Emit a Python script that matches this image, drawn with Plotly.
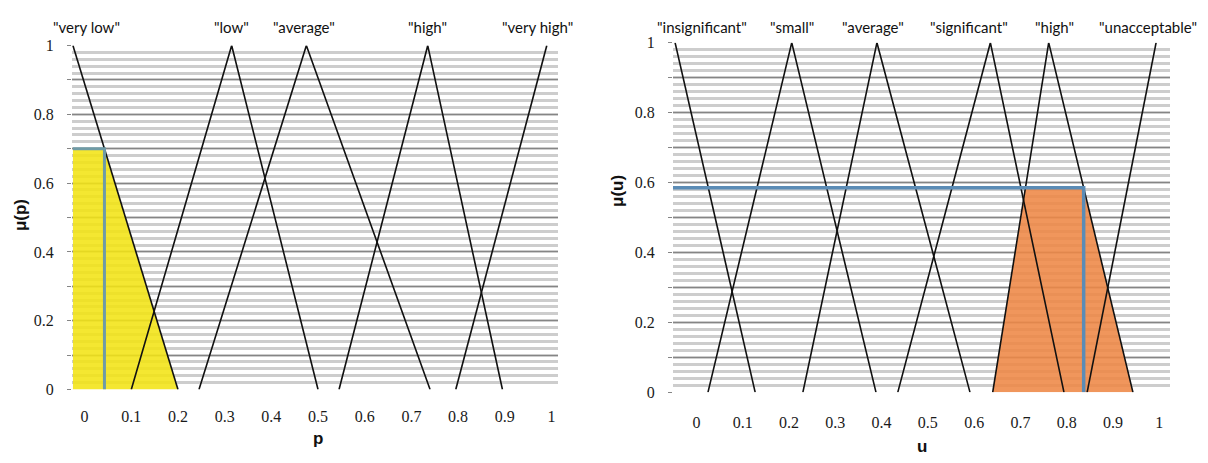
import numpy as np
import plotly.graph_objects as go

# ---------------- data ----------------
# Left panel: input variable p, triangular terms (start, peak, end); None = shoulder
p_terms = ['"very low"', '"low"', '"average"', '"high"', '"very high"']
p_start = [None, 0.10, 0.245, 0.545, 0.795]
p_peak = [-0.025, 0.315, 0.475, 0.735, 0.99]
p_end = [0.20, 0.50, 0.74, 0.895, None]
p_mu = 0.70            # membership level of the input in "very low"
p_fired = 0            # index of fired term

# Right panel: output variable u
u_terms = ['"insignificant"', '"small"', '"average"', '"significant"', '"high"', '"unacceptable"']
u_start = [None, 0.025, 0.23, 0.435, 0.64, 0.844]
u_peak = [-0.046, 0.206, 0.39, 0.635, 0.761, 0.993]
u_end = [0.127, 0.388, 0.591, 0.794, 0.943, None]
u_mu = 0.585           # clipping level of the output term
u_fired = 4            # "high"

x_ticks = [0, 0.1, 0.2, 0.3, 0.4, 0.5, 0.6, 0.7, 0.8, 0.9, 1.0]
x_ticktext = ["0", "0.1", "0.2", "0.3", "0.4", "0.5", "0.6", "0.7", "0.8", "0.9", "1"]
y_ticks = [0, 0.1, 0.2, 0.3, 0.4, 0.5, 0.6, 0.7, 0.8, 0.9, 1.0]
y_ticktext = ["0", "", "0.2", "", "0.4", "", "0.6", "", "0.8", "", "1"]

# ---------------- styling ----------------
W, H = 1208, 463
TICK_FONT = dict(family="Liberation Serif", size=16, color="#1a1a1a")
TERM_FONT = dict(family="Lato", size=15, color="#111")
TITLE_FONT = dict(family="Liberation Sans", size=17, color="#111")
MAJOR_GRID = "#858585"
MINOR_GRID = "#cdcdcd"


def px_x(p):
    return p / W


def px_y(p):
    return 1 - p / H


fig = go.Figure()


def term_xy(a, b, c):
    xs, ys = [], []
    if a is not None:
        xs.append(a); ys.append(0)
    xs.append(b); ys.append(1)
    if c is not None:
        xs.append(c); ys.append(0)
    return xs, ys


# ----- left panel fill (very low clipped at p_mu) -----
b, c = p_peak[p_fired], p_end[p_fired]
xc = b + (1 - p_mu) * (c - b)
fig.add_trace(go.Scatter(x=[b, b, xc, c, b], y=[0, p_mu, p_mu, 0, 0], fill="toself",
                         fillcolor="rgba(242,228,20,0.88)", line=dict(width=0),
                         mode="lines", xaxis="x", yaxis="y", hoverinfo="skip", showlegend=False))

# ----- right panel fill ("high" clipped at u_mu) -----
a, b, c = u_start[u_fired], u_peak[u_fired], u_end[u_fired]
xl = a + u_mu * (b - a)
xr = c - u_mu * (c - b)
fig.add_trace(go.Scatter(x=[a, xl, xr, c, a], y=[0, u_mu, u_mu, 0, 0], fill="toself",
                         fillcolor="rgba(238,135,70,0.88)", line=dict(width=0),
                         mode="lines", xaxis="x2", yaxis="y2", hoverinfo="skip", showlegend=False))

# ----- membership function lines -----
for name, a, b, c in zip(p_terms, p_start, p_peak, p_end):
    xs, ys = term_xy(a, b, c)
    fig.add_trace(go.Scatter(x=xs, y=ys, mode="lines", line=dict(color="#111", width=1.6),
                             name=name, xaxis="x", yaxis="y", showlegend=False, cliponaxis=False))
for name, a, b, c in zip(u_terms, u_start, u_peak, u_end):
    xs, ys = term_xy(a, b, c)
    fig.add_trace(go.Scatter(x=xs, y=ys, mode="lines", line=dict(color="#111", width=1.6),
                             name=name, xaxis="x2", yaxis="y2", showlegend=False, cliponaxis=False))

# ----- activation lines -----
pb = p_peak[p_fired]
fig.add_trace(go.Scatter(x=[pb, xc, xc], y=[p_mu, p_mu, 0], mode="lines",
                         line=dict(color="#6f9ba6", width=3), xaxis="x", yaxis="y",
                         showlegend=False, hoverinfo="skip"))
fig.add_trace(go.Scatter(x=[-0.06, xr, xr], y=[u_mu, u_mu, 0], mode="lines",
                         line=dict(color="#5b8cb6", width=3.5), xaxis="x2", yaxis="y2",
                         showlegend=False, hoverinfo="skip", cliponaxis=False))

# ----- axes -----
def yaxis(domain, anchor):
    return dict(domain=domain, anchor=anchor, range=[0, 1], tickvals=y_ticks, ticktext=y_ticktext,
                showgrid=True, gridcolor=MAJOR_GRID, gridwidth=1.3, zeroline=False, showline=False,
                ticks="outside", ticklen=4, tickcolor=MAJOR_GRID, ticklabelstandoff=10,
                tickfont=TICK_FONT, fixedrange=True,
                minor=dict(dtick=0.02, tick0=0, showgrid=True, gridcolor=MINOR_GRID, gridwidth=2.5))


def xaxis(domain, anchor, rng, standoff):
    return dict(domain=domain, anchor=anchor, range=rng, tickvals=x_ticks, ticktext=x_ticktext,
                showgrid=False, zeroline=False, showline=False, ticks="", tickfont=TICK_FONT,
                ticklabelstandoff=standoff, fixedrange=True)


fig.update_layout(
    width=W, height=H, margin=dict(l=0, r=0, t=0, b=0),
    paper_bgcolor="white", plot_bgcolor="white",
    xaxis=xaxis([px_x(72), px_x(558)], "y", [-0.027, 1.014], 16),
    yaxis=yaxis([px_y(396), px_y(39)], "x"),
    xaxis2=xaxis([px_x(673), px_x(1170)], "y2", [-0.0505, 1.023], 19),
    yaxis2=yaxis([px_y(399), px_y(36)], "x2"),
)

# term labels above peaks
p_shift = [14, 0, -2, 0, -9]
for name, b, s in zip(p_terms, p_peak, p_shift):
    fig.add_annotation(x=b, y=px_y(20), xref="x", yref="paper", text=name, showarrow=False,
                       xshift=s, font=TERM_FONT, xanchor="center", yanchor="middle")
u_shift = [27, 0, -4, -21, 6, -8]
for name, b, s in zip(u_terms, u_peak, u_shift):
    fig.add_annotation(x=b, y=px_y(20), xref="x2", yref="paper", text=name, showarrow=False,
                       xshift=s, font=TERM_FONT, xanchor="center", yanchor="middle")

# axis titles
def title(x, y, text, angle=0):
    fig.add_annotation(x=px_x(x), y=px_y(y), xref="paper", yref="paper", text=text,
                       textangle=angle, showarrow=False, font=TITLE_FONT,
                       xanchor="center", yanchor="middle")


title(20, 215, "<b>μ(p)</b>", -90)
title(318, 447, "<b>p</b>")
title(617, 190, "<b>μ(u)</b>", -90)
title(922, 455, "<b>u</b>")

fig.write_html("out.html")
